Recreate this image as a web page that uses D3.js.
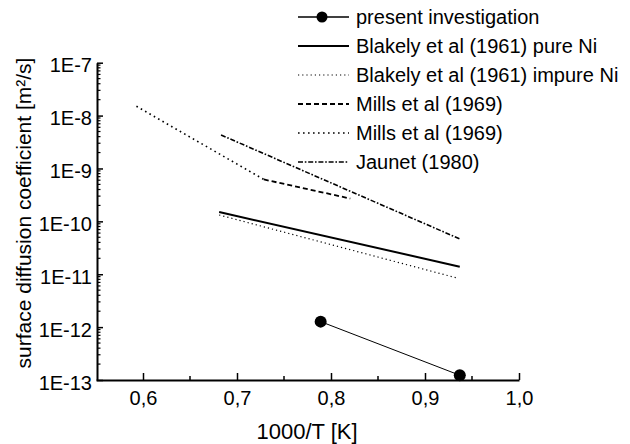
<!DOCTYPE html>
<html>
<head>
<meta charset="utf-8">
<script src="https://cdn.jsdelivr.net/npm/d3@7"></script>
<style>
  body { margin: 0; background: #fff; }
  text { font-family: "Liberation Sans", Arial, sans-serif; fill: #000; }
</style>
</head>
<body>
<svg id="chart" width="630" height="444"></svg>
<script>
// series: 1000/T [1/K] and D [m2/s]
var presentX = [0.789, 0.937],       presentY = [1.27e-12, 1.23e-13];
var blakelyPureX = [0.681, 0.937],   blakelyPureY = [1.5e-10, 1.39e-11];
var blakelyImpX = [0.681, 0.935],    blakelyImpY = [1.32e-10, 8.4e-12];
var millsDashX = [0.7285, 0.8205],   millsDashY = [6.2e-10, 2.7e-10];
var millsDotX = [0.593, 0.7285],     millsDotY = [1.5e-8, 6.2e-10];
var jaunetX = [0.683, 0.938],        jaunetY = [4.3e-9, 4.57e-11];

var xTicks = [0.6, 0.7, 0.8, 0.9, 1.0];
var xMinor = [0.65, 0.75, 0.85, 0.95];
var yExp = [-13, -12, -11, -10, -9, -8, -7];

var legendNames = [
  "present investigation",
  "Blakely et al (1961) pure Ni",
  "Blakely et al (1961) impure Ni",
  "Mills et al (1969)",
  "Mills et al (1969)",
  "Jaunet (1980)"
];

var svg = d3.select("#chart");

var x = d3.scaleLinear().domain([0.55, 1.0]).range([96, 519]);
var y = d3.scaleLog().domain([1e-13, 1e-7]).range([380, 62.7]);

// series styles
var series = [
  {xs: presentX, ys: presentY, w: 1, dash: null, dots: true},
  {xs: blakelyPureX, ys: blakelyPureY, w: 2, dash: null},
  {xs: blakelyImpX, ys: blakelyImpY, w: 1.2, dash: "1.2,3"},
  {xs: millsDashX, ys: millsDashY, w: 1.8, dash: "5,3"},
  {xs: millsDotX, ys: millsDotY, w: 1.6, dash: "1.6,3.4"},
  {xs: jaunetX, ys: jaunetY, w: 1.6, dash: "5,1.8,1.6,1.8"}
];

var line = d3.line().x(function(d) { return x(d[0]); }).y(function(d) { return y(d[1]); });

series.forEach(function(s) {
  var pts = d3.zip(s.xs, s.ys);
  svg.append("path")
    .attr("d", line(pts))
    .attr("fill", "none")
    .attr("stroke", "#000")
    .attr("stroke-width", s.w)
    .attr("stroke-dasharray", s.dash);
  if (s.dots) {
    svg.selectAll(null).data(pts).enter().append("circle")
      .attr("cx", function(d) { return x(d[0]); })
      .attr("cy", function(d) { return y(d[1]); })
      .attr("r", 6)
      .attr("fill", "#000");
  }
});

// x axis
var xAxis = d3.axisBottom(x).tickValues(xTicks).tickSizeInner(-7).tickSizeOuter(0)
  .tickFormat(function(d) { return d3.format(".1f")(d).replace(".", ","); });
var gx = svg.append("g").attr("transform", "translate(0,380)").call(xAxis);
gx.select(".domain").attr("stroke-width", 2);
gx.selectAll(".tick line").attr("stroke-width", 1.5);
gx.selectAll(".tick text").attr("y", 11).attr("font-size", 20)
  .style("font-family", "Liberation Sans, Arial, sans-serif");
gx.selectAll(".minor").data(xMinor).enter().append("line")
  .attr("x1", function(d) { return x(d); }).attr("x2", function(d) { return x(d); })
  .attr("y1", 0).attr("y2", -4).attr("stroke", "#000").attr("stroke-width", 1.5);

// y axis: decades labelled 1E-n, log minor ticks
var yAxis = d3.axisLeft(y).tickValues(yExp.map(function(e) { return Math.pow(10, e); }))
  .tickSizeInner(-6).tickSizeOuter(0)
  .tickFormat(function(d) { return "1E" + Math.round(Math.log10(d)); });
var gy = svg.append("g").attr("transform", "translate(97,0)").call(yAxis);
gy.select(".domain").attr("stroke-width", 2);
gy.selectAll(".tick line").attr("stroke-width", 1.5);
gy.selectAll(".tick text").attr("x", -5).attr("dy", "0.45em").attr("font-size", 20)
  .style("font-family", "Liberation Sans, Arial, sans-serif");
var yMinor = [];
yExp.slice(0, -1).forEach(function(e) {
  for (var m = 2; m <= 9; m++) yMinor.push(m * Math.pow(10, e));
});
gy.selectAll(".minor").data(yMinor).enter().append("line")
  .attr("x1", 0).attr("x2", 3.5)
  .attr("y1", function(d) { return y(d); }).attr("y2", function(d) { return y(d); })
  .attr("stroke", "#000").attr("stroke-width", 1.2);

// axis titles
svg.append("text").attr("x", 307).attr("y", 439).attr("text-anchor", "middle")
  .attr("font-size", 22).text("1000/T [K]");
svg.append("text").attr("transform", "translate(31,213) rotate(-90)")
  .attr("text-anchor", "middle").attr("font-size", 21)
  .text("surface diffusion coefficient [m\u00B2/s]");

// legend
var lg = svg.append("g");
legendNames.forEach(function(name, i) {
  var s = series[i];
  var ly = 17 + i * 29;
  lg.append("line").attr("x1", 298).attr("x2", 349).attr("y1", ly).attr("y2", ly)
    .attr("stroke", "#000").attr("stroke-width", s.w === 1 ? 1.5 : s.w)
    .attr("stroke-dasharray", s.dash);
  if (s.dots) lg.append("circle").attr("cx", 322).attr("cy", ly).attr("r", 5.5).attr("fill", "#000");
  lg.append("text").attr("x", 356).attr("y", ly).attr("dy", "0.36em")
    .attr("font-size", 20).text(name);
});
</script>
</body>
</html>
